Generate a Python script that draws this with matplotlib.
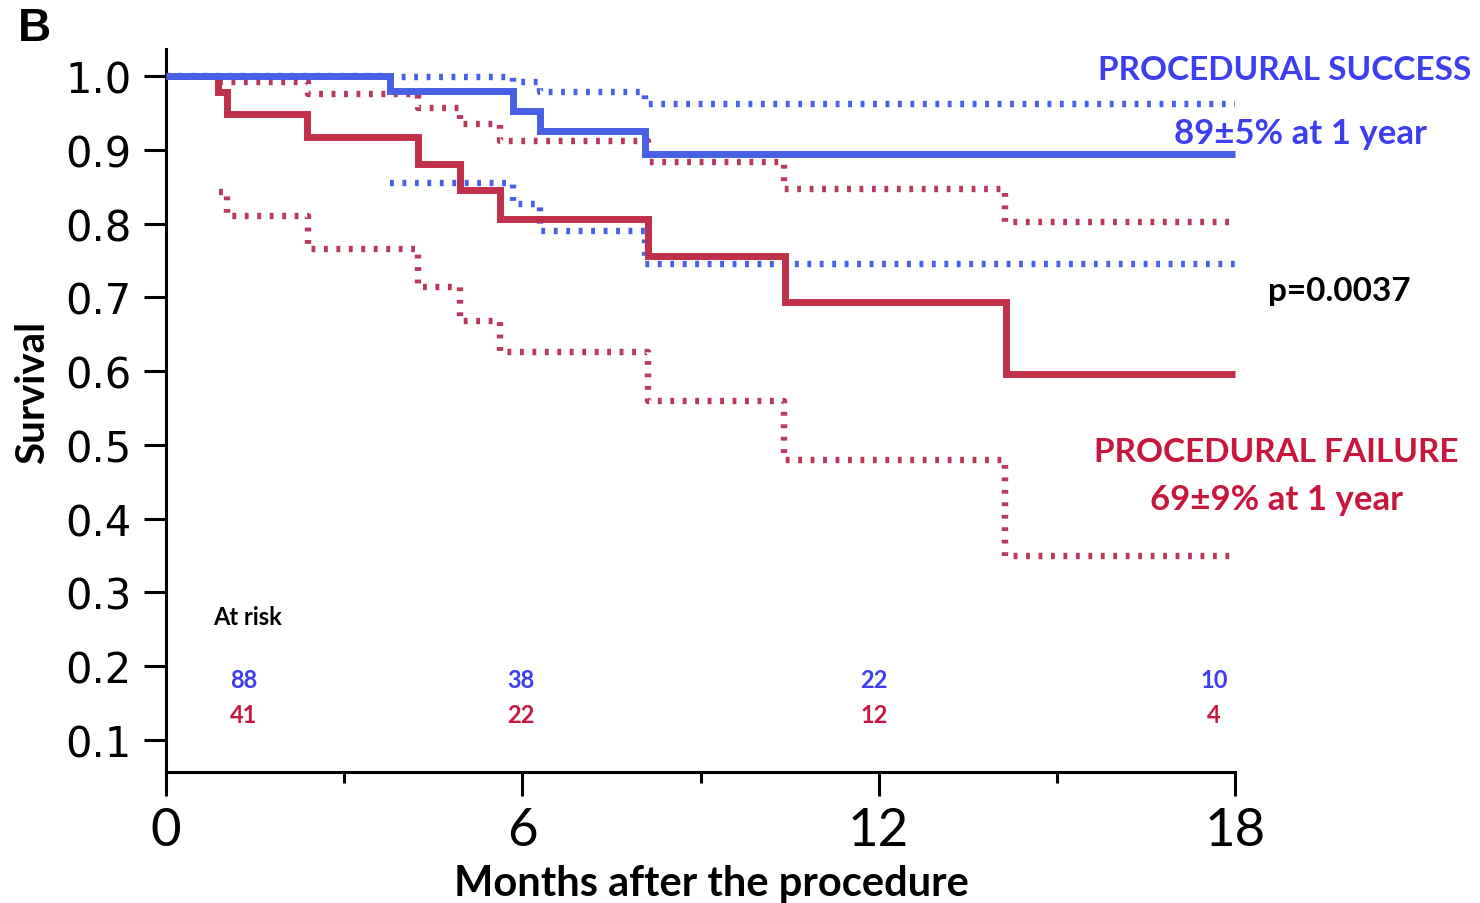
import matplotlib
matplotlib.use("Agg")
import matplotlib.pyplot as plt
from matplotlib.ticker import FixedLocator

# Kaplan-Meier estimates (months, survival) with 95% confidence bands
success_t = [0, 3.77, 5.84, 6.30, 8.07]
success_s = [1.0, 0.980, 0.953, 0.926, 0.894]
success_hi_t = [0, 3.77, 5.84, 6.30, 8.07]
success_hi_s = [1.0, 0.998, 0.992, 0.978, 0.962]
success_lo_t = [3.77, 5.84, 6.30, 8.07]
success_lo_s = [0.855, 0.827, 0.790, 0.745]

failure_t = [0, 0.875, 1.03, 2.37, 4.24, 4.95, 5.62, 8.12, 10.42, 14.15]
failure_s = [1.0, 0.978, 0.949, 0.917, 0.881, 0.845, 0.806, 0.756, 0.694, 0.596]
failure_hi_t = [0.9, 2.39, 4.24, 4.95, 5.62, 8.12, 10.40, 14.12]
failure_hi_s = [0.992, 0.976, 0.957, 0.935, 0.912, 0.883, 0.847, 0.802]
failure_lo_t = [0.9, 1.03, 2.39, 4.24, 4.95, 5.62, 8.12, 10.40, 14.12]
failure_lo_s = [0.843, 0.810, 0.766, 0.714, 0.668, 0.626, 0.560, 0.479, 0.350]

t_end = 18

# Numbers at risk
risk_x = [1.31, 5.98, 11.92, 17.65]
risk_success = ["88", "38", "22", "10"]
risk_failure = ["41", "22", "12", "4"]

x_major = [0, 6, 12, 18]
x_minor = [3, 9, 15]
y_ticks = [0.1, 0.2, 0.3, 0.4, 0.5, 0.6, 0.7, 0.8, 0.9, 1.0]

BLUE = "#4760e6"
BLUE_TXT = "#3e3ef0"
RED = "#c1304b"
RED_DOT = "#b83a58"
RED_TXT = "#c8173f"

W, H = 1480, 904
fig = plt.figure(figsize=(W / 100, H / 100), dpi=100)


def fp(x, y):
    return x / W, 1 - y / H


ax = fig.add_axes([166 / W, 1 - 773 / H, (1235 - 166) / W, (773 - 50) / H])
ax.set_xlim(0, 18)
ax.set_ylim(0.0566, 1.0366)


def stepline(t, s, **kw):
    ax.step(list(t) + [t_end], list(s) + [s[-1]], where="post", **kw)


dot = dict(linewidth=4.6, linestyle=(0, (0.6, 1.35)), dash_capstyle="butt",
           solid_capstyle="butt", clip_on=False)
stepline(success_hi_t, success_hi_s, color=BLUE, zorder=2, **dot)
stepline(success_lo_t, success_lo_s, color=BLUE, zorder=2, **dot)
stepline(failure_hi_t, failure_hi_s, color=RED_DOT, zorder=2, **dot)
stepline(failure_lo_t, failure_lo_s, color=RED_DOT, zorder=2, **dot)

solid = dict(linewidth=5, solid_capstyle="butt", solid_joinstyle="miter", clip_on=False)
stepline(failure_t, failure_s, color=RED, zorder=3, **solid)
stepline(success_t, success_s, color=BLUE, zorder=4, **solid)

# Axes styling
for side in ("top", "right"):
    ax.spines[side].set_visible(False)
for side in ("left", "bottom"):
    ax.spines[side].set_linewidth(2.2)
    ax.spines[side].set_color("black")

ax.set_yticks(y_ticks)
ax.set_yticklabels([f"{v:.1f}" for v in y_ticks], fontfamily="DejaVu Sans", fontsize=30)
ax.tick_params(axis="y", direction="out", length=16, width=2.2, pad=9)

ax.xaxis.set_major_locator(FixedLocator(x_major))
ax.xaxis.set_minor_locator(FixedLocator(x_minor))
ax.set_xticklabels([str(v) for v in x_major], fontfamily="Lato", fontsize=38)
ax.tick_params(axis="x", which="major", direction="out", length=17, width=2.2, pad=8)
ax.tick_params(axis="x", which="minor", direction="out", length=8, width=2.2)

# Axis titles
fig.text(*fp(711, 884), "Months after the procedure", fontfamily="Lato",
         fontweight="bold", fontsize=30, ha="center", va="center")
fig.text(*fp(33, 392), "Survival", fontfamily="Lato", fontweight="bold",
         fontsize=29, rotation=90, ha="center", va="center")
fig.text(*fp(34, 29), "B", fontfamily="Liberation Sans", fontweight="bold",
         fontsize=33, ha="center", va="center")

# Group annotations
fig.text(*fp(1285, 70), "PROCEDURAL SUCCESS", color=BLUE_TXT, fontfamily="Lato",
         fontweight="bold", fontsize=24, ha="center", va="center")
fig.text(*fp(1300, 134), "89±5% at 1 year", color=BLUE_TXT, fontfamily="Lato",
         fontweight="bold", fontsize=25, ha="center", va="center")
fig.text(*fp(1339, 292), "p=0.0037", color="black", fontfamily="Lato",
         fontweight="bold", fontsize=24, ha="center", va="center")
fig.text(*fp(1276, 453), "PROCEDURAL FAILURE", color=RED_TXT, fontfamily="Lato",
         fontweight="bold", fontsize=24, ha="center", va="center")
fig.text(*fp(1277, 500), "69±9% at 1 year", color=RED_TXT, fontfamily="Lato",
         fontweight="bold", fontsize=25, ha="center", va="center")

# Numbers at risk
ax.text(1.38, 0.267, "At risk", fontfamily="Lato", fontweight="bold", fontsize=17,
        ha="center", va="center")
for x, a, b in zip(risk_x, risk_success, risk_failure):
    ax.text(x, 0.1816, a, color=BLUE_TXT, fontfamily="Lato", fontweight="bold",
            fontsize=17, ha="center", va="center")
    ax.text(x, 0.134, b, color=RED_TXT, fontfamily="Lato", fontweight="bold",
            fontsize=17, ha="center", va="center")

fig.savefig("out.png", dpi=100)
